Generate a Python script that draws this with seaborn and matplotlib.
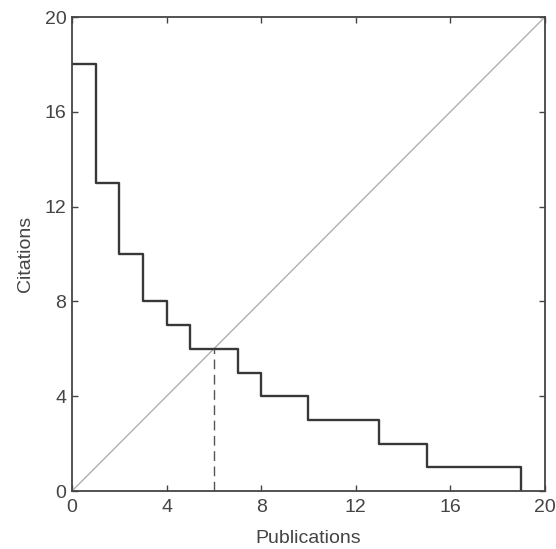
import matplotlib
matplotlib.use("Agg")
import matplotlib.pyplot as plt
import seaborn as sns
import pandas as pd

# Citations of each publication, ranked in decreasing order
citations = [18, 13, 10, 8, 7, 6, 6, 5, 4, 4, 3, 3, 3, 2, 2, 1, 1, 1, 1]
h_index = 6
ticks = [0, 4, 8, 12, 16, 20]

sns.set_theme(style="white")
plt.rcParams['font.family'] = ['Liberation Sans', 'DejaVu Sans']

edges = list(range(len(citations) + 1))
df = pd.DataFrame({"Publications": edges, "Citations": citations + [0]})

fig = plt.figure(figsize=(5.56, 5.49), dpi=100)
ax = fig.add_axes([0.1295, 0.1056, 0.8505, 0.8634])

diag = pd.DataFrame({"x": [0, 20], "y": [0, 20]})
sns.lineplot(data=diag, x="x", y="y", ax=ax, color="#b0b0b0", linewidth=1.0)
sns.lineplot(data=df, x="Publications", y="Citations", ax=ax, color="#383838",
             linewidth=1.7, drawstyle="steps-post")
ax.plot([h_index, h_index], [0, h_index], color="#555555", linewidth=1.0,
        linestyle=(0, (7, 4)))

ax.set_xlim(0, 20)
ax.set_ylim(0, 20)
ax.set_xticks(ticks)
ax.set_yticks(ticks)
ax.set_xlabel("Publications", fontsize=14, color="#444444", labelpad=10)
ax.set_ylabel("Citations", fontsize=14, color="#444444", labelpad=8)
ax.tick_params(direction="in", length=4, width=1, colors="#444444",
               labelsize=14, labelcolor="#444444", top=True, right=True,
               bottom=True, left=True)
ax.tick_params(axis="x", pad=6)
ax.tick_params(axis="y", pad=4)
for s in ax.spines.values():
    s.set_color("#444444")
    s.set_linewidth(1.3)
    s.set_visible(True)

fig.savefig("out.png", dpi=100, facecolor="white")
